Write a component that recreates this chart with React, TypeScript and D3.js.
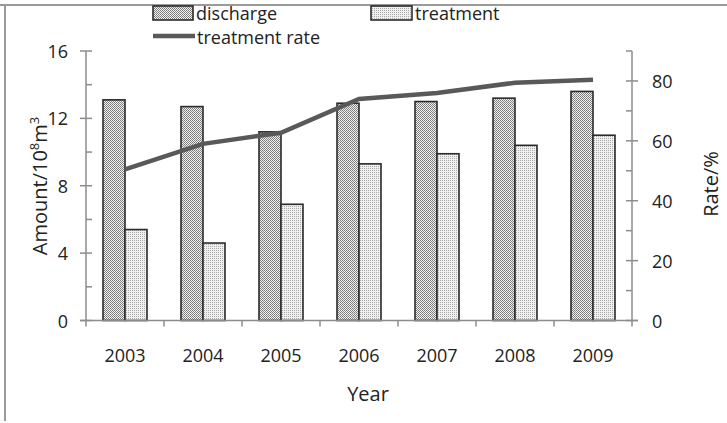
import React from "react";
import { scaleBand, scaleLinear, line, range } from "d3";

// datos
const years = ["2003", "2004", "2005", "2006", "2007", "2008", "2009"];
const discharge = [13.1, 12.7, 11.2, 12.9, 13.0, 13.2, 13.6];
const treatment = [5.4, 4.6, 6.9, 9.3, 9.9, 10.4, 11.0];
const rate = [50.5, 59, 62.7, 74, 76, 79.4, 80.4];
const leftTicks = [0, 4, 8, 12, 16];
const rightTicks = [0, 20, 40, 60, 80];

const W = 727;
const H = 423;
const FONT = "'Open Sans', sans-serif";
const AXIS = "#8c8c8c";

const App: React.FC = () => {
  const x = scaleBand<string>().domain(years).range([86, 632]);
  const yL = scaleLinear().domain([0, 16]).range([320.5, 51]);
  const yR = scaleLinear().domain([0, 90]).range([320.5, 51]);
  const barW = 22;

  const rateLine = line<number>()
    .x((_, i) => x(years[i])! + x.bandwidth() / 2)
    .y((d) => yR(d));

  const leftMinor = range(2, 16, 4);
  const rightMinor = range(10, 100, 20);

  return (
    <svg
      width={W}
      height={H}
      style={{ position: "absolute", left: 0, top: 0, background: "#fff" }}
      fontFamily={FONT}
    >
      <defs>
        <pattern id="pDis" width={2} height={2} patternUnits="userSpaceOnUse">
          <rect width={2} height={2} fill="#eeeeee" />
          <rect x={0} y={0} width={1} height={1} fill="#7a7a7a" />
          <rect x={1} y={1} width={1} height={1} fill="#8a8a8a" />
        </pattern>
        <pattern id="pTre" width={2} height={2} patternUnits="userSpaceOnUse">
          <rect width={2} height={2} fill="#f0f0f0" />
          <rect x={0} y={0} width={1} height={1} fill="#aaaaaa" />
        </pattern>
      </defs>

      {/* marco */}
      <line x1={0} x2={W} y1={5} y2={5} stroke="#9a9a9a" strokeWidth={2} />
      <line x1={5} x2={5} y1={5} y2={H - 2} stroke="#9a9a9a" strokeWidth={2} />

      {/* barras */}
      {years.map((yr, i) => {
        const cx = x(yr)! + x.bandwidth() / 2;
        return (
          <g key={yr} stroke="#2b2b2b" strokeWidth={1.6}>
            <rect
              x={cx - barW}
              y={yL(discharge[i])}
              width={barW}
              height={yL(0) - yL(discharge[i])}
              fill="url(#pDis)"
            />
            <rect
              x={cx}
              y={yL(treatment[i])}
              width={barW}
              height={yL(0) - yL(treatment[i])}
              fill="url(#pTre)"
            />
          </g>
        );
      })}

      {/* ejes */}
      <g stroke={AXIS} strokeWidth={1.5}>
        <line x1={86} x2={86} y1={yL(16)} y2={yL(0) + 6} />
        <line x1={632} x2={632} y1={yR(90)} y2={yR(0) + 6} />
        <line x1={80} x2={638} y1={yL(0)} y2={yL(0)} />
        {leftTicks.map((t) => (
          <line key={t} x1={80} x2={92} y1={yL(t)} y2={yL(t)} />
        ))}
        {leftMinor.map((t) => (
          <line key={t} x1={86} x2={92} y1={yL(t)} y2={yL(t)} />
        ))}
        {rightTicks.map((t) => (
          <line key={t} x1={626} x2={638} y1={yR(t)} y2={yR(t)} />
        ))}
        {rightMinor.map((t) => (
          <line key={t} x1={626} x2={632} y1={yR(t)} y2={yR(t)} />
        ))}
        {years.slice(1).map((yr) => (
          <line key={yr} x1={x(yr)!} x2={x(yr)!} y1={yL(0)} y2={yL(0) + 6} />
        ))}
      </g>

      {/* línea de tasa */}
      <path d={rateLine(rate)!} fill="none" stroke="#595959" strokeWidth={4.5} />

      {/* etiquetas */}
      <g fontSize={18} fill="#222">
        {leftTicks.map((t) => (
          <text key={t} x={68} y={yL(t)} textAnchor="end" dominantBaseline="central">
            {t}
          </text>
        ))}
        {rightTicks.map((t) => (
          <text key={t} x={652} y={yR(t)} dominantBaseline="central">
            {t}
          </text>
        ))}
        {years.map((yr) => (
          <text key={yr} x={x(yr)! + x.bandwidth() / 2} y={362} textAnchor="middle">
            {yr}
          </text>
        ))}
      </g>

      {/* títulos */}
      <g fontSize={20} fill="#222">
        <text x={368} y={401} textAnchor="middle">
          Year
        </text>
        <text transform="translate(47,186) rotate(-90)" textAnchor="middle">
          Amount/10
          <tspan fontSize={13} dy={-8}>8</tspan>
          <tspan dy={8}>m</tspan>
          <tspan fontSize={13} dy={-8}>3</tspan>
        </text>
        <text transform="translate(718,184) rotate(-90)" textAnchor="middle">
          Rate/%
        </text>
      </g>

      {/* leyenda */}
      <g fontSize={18} fill="#222">
        <rect x={153} y={6} width={40} height={14} fill="url(#pDis)" stroke="#2b2b2b" strokeWidth={1.6} />
        <text x={196} y={13} dominantBaseline="central">discharge</text>
        <rect x={371} y={6} width={41} height={14} fill="url(#pTre)" stroke="#2b2b2b" strokeWidth={1.6} />
        <text x={415} y={13} dominantBaseline="central">treatment</text>
        <line x1={153} x2={195} y1={36} y2={36} stroke="#595959" strokeWidth={4.5} />
        <text x={197} y={37} dominantBaseline="central">treatment rate</text>
      </g>
    </svg>
  );
};

export default App;
